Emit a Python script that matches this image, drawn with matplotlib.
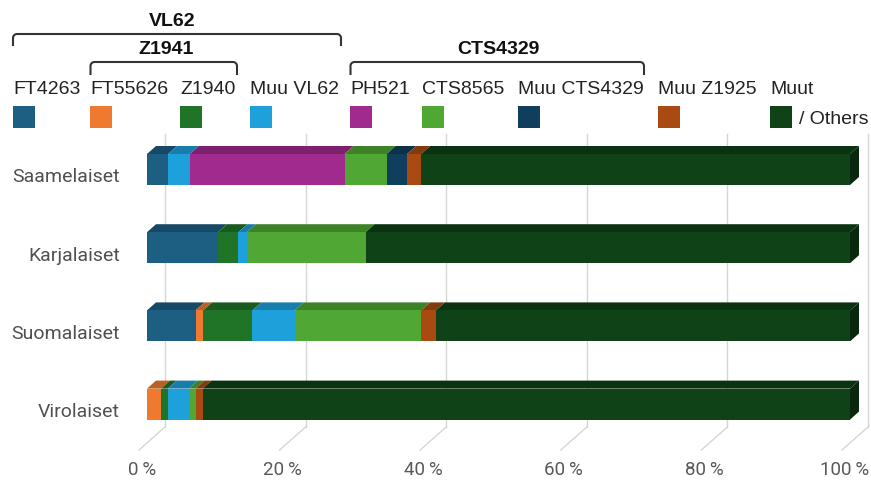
import numpy as np
import matplotlib.pyplot as plt
from matplotlib.patches import Polygon, Rectangle
from matplotlib.colors import to_rgb

# Data (percent of each population)
groups = ["Saamelaiset", "Karjalaiset", "Suomalaiset", "Virolaiset"]
haplogroups = ["FT4263", "FT55626", "Z1940", "Muu VL62", "PH521",
               "CTS8565", "Muu CTS4329", "Muu Z1925", "Muut"]
colors = ["#1d5e83", "#ef7a2f", "#1f7428", "#1ea0da", "#a02a8e",
          "#50a733", "#103f5e", "#a84a12", "#0f4216"]

ft4263 = [3.0, 10.1, 6.9, 0.0]
ft55626 = [0.0, 0.0, 1.1, 2.0]
z1940 = [0.0, 2.9, 7.0, 0.95]
muu_vl62 = [3.1, 1.2, 6.0, 3.0]
ph521 = [22.0, 0.0, 0.0, 0.0]
cts8565 = [6.0, 16.9, 18.0, 0.95]
muu_cts4329 = [2.9, 0.0, 0.0, 0.0]
muu_z1925 = [2.0, 0.0, 2.1, 1.0]
series = [ft4263, ft55626, z1940, muu_vl62, ph521, cts8565, muu_cts4329, muu_z1925]
muut = [100 - sum(s[i] for s in series) for i in range(len(groups))]
series.append(muut)

xticks = [0, 20, 40, 60, 80, 100]

W, H = 871, 485
X0, XS = 147.0, 7.03   # pixel of 0 %, pixels per percent
Y0, YS = 170.5, 78.2   # pixel of first bar centre, pixels per bar

fig = plt.figure(figsize=(W / 100, H / 100), dpi=100)
ax = fig.add_axes([0, 0, 1, 1])
ax.set_xlim(-X0 / XS, (W - X0) / XS)
ax.set_ylim((H - Y0) / YS, -Y0 / YS)
ax.axis("off")


def py(p):
    # pixel row -> data y
    return (p - Y0) / YS


def darker(c, f):
    r, g, b = to_rgb(c)
    return (r * f, g * f, b * f)


dx = 9 / XS
dy = 8 / YS
bh = 31 / YS
grid_c = "#d6d6d6"

# back-wall gridlines and floor lines
back = 18 / XS
for t in xticks:
    ax.plot([t + back, t + back], [py(135), py(428)], color=grid_c, lw=1, zorder=1)
    ax.plot([t + back, t - 8 / XS], [py(428), py(451)], color=grid_c, lw=1, zorder=1)
    ax.text(t - 5 / XS, py(470), f"{t}\u2009%", ha="center", va="center",
            fontsize=13.5, color="#595959", family="Roboto")

# 3D-looking stacked bars
for i, g in enumerate(groups):
    left = 0.0
    top = i - bh / 2
    for s, c in zip(series, colors):
        v = s[i]
        if v <= 0:
            continue
        ax.barh(i, v, left=left, height=bh, color=c, zorder=3)
        ax.add_patch(Polygon([(left, top), (left + v, top), (left + v + dx, top - dy),
                              (left + dx, top - dy)], closed=True,
                             facecolor=darker(c, 0.78), edgecolor="none", zorder=2))
        left += v
    # right end cap
    ax.add_patch(Polygon([(left, top), (left + dx, top - dy), (left + dx, top + bh - dy),
                          (left, top + bh)], closed=True,
                         facecolor=darker(colors[-1], 0.6), edgecolor="none", zorder=2))
    ax.text(-27 / XS, i + 7 / YS, g, ha="right", va="center", fontsize=14,
            color="#505050", family="Roboto")


# legend and brackets in pixel coordinates
def fx(p):
    return p / W


def fy(p):
    return 1 - p / H


leg_x = [13, 90, 180, 250, 350, 422, 518, 658, 770]
for x, lab, c in zip(leg_x, haplogroups, colors):
    fig.text(fx(x), fy(90), lab, ha="left", va="center", fontsize=14,
             family="Liberation Sans", color="#222222")
    fig.patches.append(Rectangle((fx(x), fy(129)), 22 / W, 22 / H, facecolor=c,
                                 edgecolor="none", transform=fig.transFigure))
fig.text(fx(799), fy(119), "/ Others", ha="left", va="center", fontsize=14,
         family="Liberation Sans", color="#222222")


def bracket(x0, x1, ytop, ybot, label, ylab, xlab):
    r = 4
    a = np.linspace(0, np.pi / 2, 8)
    xs = [x0] + list(x0 + r - r * np.cos(a)) + list(x1 - r + r * np.sin(a)) + [x1]
    ys = [ybot] + list(ytop + r - r * np.sin(a)) + list(ytop + r - r * np.cos(a)) + [ybot]
    fig.add_artist(plt.Line2D([fx(v) for v in xs], [fy(v) for v in ys],
                              color="#333333", lw=1.5, transform=fig.transFigure))
    fig.text(fx(xlab), fy(ylab), label, ha="center", va="center", fontsize=14,
             fontweight="bold", family="Liberation Sans", color="#111111")


bracket(13, 341, 35, 46, "VL62", 21, 172)
bracket(90.5, 237, 63, 75, "Z1941", 50, 166)
bracket(350.5, 644, 63, 75, "CTS4329", 50, 498)

fig.savefig("out.png", dpi=100)
